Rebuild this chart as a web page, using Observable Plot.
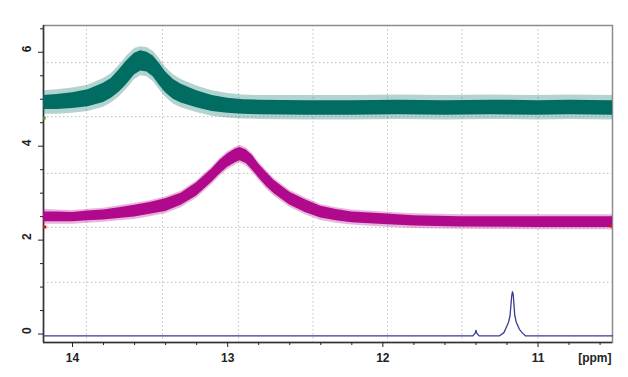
<!DOCTYPE html>
<html><head><meta charset="utf-8">
<script src="https://cdn.jsdelivr.net/npm/d3@7"></script>
<script src="https://cdn.jsdelivr.net/npm/@observablehq/plot@0.6"></script>
<style>body{margin:0;background:#fff}</style>
</head><body><div id="chart"></div>
<script>
// axes
const xDomain = [14.187, 10.52];
const yDomain = [-0.18, 6.57];
const xMajor = [14, 13, 12, 11];
const xMinor = [13.8, 13.6, 13.4, 13.2, 12.8, 12.6, 12.4, 12.2, 11.8, 11.6, 11.4, 11.2, 10.8, 10.6];
const yMajor = [0, 2, 4, 6];
const yMinor = [0.5, 1, 1.5, 2.5, 3, 3.5, 4.5, 5, 5.5, 6.5];
const vGrid = [13.91, 13.42, 12.93, 12.45, 11.97, 11.49, 11.00];
const hGrid = [5.78, 4.63, 3.42, 2.27, 1.10];

// green (top) spectrum: noise band
const greenPpm   = [14.187,14.10,14.00,13.90,13.80,13.75,13.70,13.65,13.60,13.56,13.52,13.48,13.44,13.40,13.35,13.30,13.20,13.10,13.00,12.90,12.80,12.50,12.20,11.90,11.60,11.30,11.00,10.80,10.52];
const greenLow   = [4.78,4.78,4.80,4.84,4.93,5.02,5.15,5.32,5.52,5.60,5.58,5.48,5.30,5.14,5.00,4.92,4.82,4.74,4.70,4.68,4.67,4.66,4.66,4.67,4.66,4.67,4.66,4.67,4.66];
const greenHigh  = [5.08,5.10,5.14,5.20,5.34,5.44,5.62,5.82,5.98,6.03,6.00,5.92,5.76,5.58,5.42,5.32,5.18,5.08,5.02,4.99,4.98,4.97,4.97,4.98,4.97,4.98,4.97,4.98,4.97];
const greenSpikeLow  = [4.68,4.68,4.70,4.74,4.83,4.92,5.05,5.22,5.42,5.50,5.48,5.38,5.20,5.04,4.90,4.82,4.72,4.64,4.60,4.58,4.57,4.56,4.56,4.57,4.56,4.57,4.56,4.57,4.56];
const greenSpikeHigh = [5.18,5.20,5.24,5.30,5.44,5.54,5.72,5.92,6.08,6.12,6.10,6.02,5.86,5.68,5.52,5.42,5.28,5.18,5.12,5.09,5.08,5.08,5.08,5.09,5.08,5.09,5.08,5.09,5.08];

// magenta (middle) spectrum
const magPpm   = [14.187,14.10,14.00,13.90,13.80,13.70,13.60,13.50,13.40,13.30,13.20,13.10,13.05,13.00,12.95,12.92,12.88,12.84,12.80,12.75,12.70,12.60,12.50,12.40,12.30,12.20,12.00,11.80,11.50,11.00,10.52];
const magLow   = [2.39,2.39,2.39,2.41,2.43,2.46,2.49,2.55,2.61,2.74,2.94,3.24,3.41,3.55,3.65,3.69,3.63,3.49,3.33,3.14,2.99,2.75,2.59,2.47,2.41,2.37,2.33,2.30,2.28,2.27,2.27];
const magHigh  = [2.60,2.60,2.59,2.62,2.64,2.69,2.74,2.80,2.88,3.00,3.22,3.52,3.70,3.84,3.94,3.97,3.92,3.80,3.62,3.44,3.27,3.02,2.86,2.72,2.65,2.60,2.56,2.52,2.50,2.50,2.50];
const magSpikeLow  = [2.34,2.34,2.34,2.36,2.38,2.41,2.44,2.50,2.56,2.69,2.89,3.19,3.36,3.50,3.60,3.64,3.58,3.44,3.28,3.09,2.94,2.70,2.54,2.42,2.36,2.32,2.28,2.25,2.23,2.22,2.22];
const magSpikeHigh = [2.66,2.64,2.63,2.66,2.68,2.73,2.78,2.84,2.92,3.04,3.26,3.56,3.74,3.88,3.98,4.02,3.96,3.84,3.66,3.48,3.31,3.06,2.90,2.76,2.69,2.64,2.60,2.56,2.54,2.54,2.54];

// blue (bottom) spectrum
const bluePpm = [14.187,11.42,11.405,11.40,11.395,11.38,11.25,11.22,11.21,11.19,11.18,11.17,11.165,11.16,11.15,11.14,11.12,11.10,11.08,10.52];
const blueVal = [-0.04,-0.04,0.02,0.08,0.02,-0.04,-0.04,0.03,0.10,0.25,0.40,0.80,0.90,0.85,0.40,0.25,0.10,0.02,-0.04,-0.04];

// small markers at trace ends
const redMarks = [{x1: 14.187, x2: 14.165, y: 2.28}, {x1: 10.535, x2: 10.52, y: 2.30}];
const greenMarks = [{x1: 14.187, x2: 14.17, y: 4.60}];

const green = greenPpm.map((p, i) => ({p, lo: greenLow[i], hi: greenHigh[i], slo: greenSpikeLow[i], shi: greenSpikeHigh[i]}));
const mag = magPpm.map((p, i) => ({p, lo: magLow[i], hi: magHigh[i], slo: magSpikeLow[i], shi: magSpikeHigh[i]}));
const blue = bluePpm.map((p, i) => ({p, v: blueVal[i]}));

const GREEN = "#006c62", MAG = "#b0098c", BLUE = "#3a3a98";

const chart = Plot.plot({
  width: 628, height: 377,
  marginLeft: 43, marginRight: 16, marginTop: 25, marginBottom: 35,
  x: {domain: xDomain, label: null},
  y: {domain: yDomain, label: null},
  style: {fontFamily: "'Liberation Sans', Arial, sans-serif", fontWeight: "bold", color: "#222", background: "white"},
  marks: [
    Plot.ruleX(vGrid, {stroke: "#c2c2c2", strokeDasharray: "1.5,2.5"}),
    Plot.ruleY(hGrid, {stroke: "#c2c2c2", strokeDasharray: "1.5,2.5"}),
    Plot.frame({stroke: "#8c8c8c", strokeWidth: 1.5}),
    Plot.ruleX([xDomain[0]], {stroke: "#333", strokeWidth: 1.5}),
    Plot.ruleY([yDomain[0]], {stroke: "#333", strokeWidth: 1.5}),
    Plot.axisX({ticks: xMajor, tickSize: 5, tickPadding: 6, fontSize: 12, tickFormat: d => String(d), label: null}),
    Plot.axisX({ticks: xMinor, tickSize: 3, fill: "none", label: null}),
    Plot.axisY({ticks: yMajor, tickSize: 5, fill: "none", label: null}),
    Plot.axisY({ticks: yMinor, tickSize: 3, fill: "none", label: null}),
    Plot.text(yMajor, {y: d => d, frameAnchor: "left", dx: -16, rotate: -90, text: d => String(d), fontSize: 12}),
    Plot.text(["[ppm]"], {frameAnchor: "bottom-right", dy: 16, dx: -1, textAnchor: "end", lineAnchor: "middle", fontSize: 12}),
    // green
    Plot.areaY(green, {x: "p", y1: "slo", y2: "shi", fill: GREEN, fillOpacity: 0.3}),
    Plot.areaY(green, {x: "p", y1: "lo", y2: "hi", fill: GREEN}),
    // magenta
    Plot.areaY(mag, {x: "p", y1: "slo", y2: "shi", fill: MAG, fillOpacity: 0.3}),
    Plot.areaY(mag, {x: "p", y1: "lo", y2: "hi", fill: MAG}),
    // blue
    Plot.line(blue, {x: "p", y: "v", stroke: BLUE, strokeWidth: 1.3}),
    Plot.ruleY(redMarks, {x1: "x1", x2: "x2", y: "y", stroke: "#e01010", strokeWidth: 3}),
    Plot.ruleY(greenMarks, {x1: "x1", x2: "x2", y: "y", stroke: "#3a9a3a", strokeWidth: 3})
  ]
});
document.getElementById("chart").appendChild(chart);
</script>
</body></html>
